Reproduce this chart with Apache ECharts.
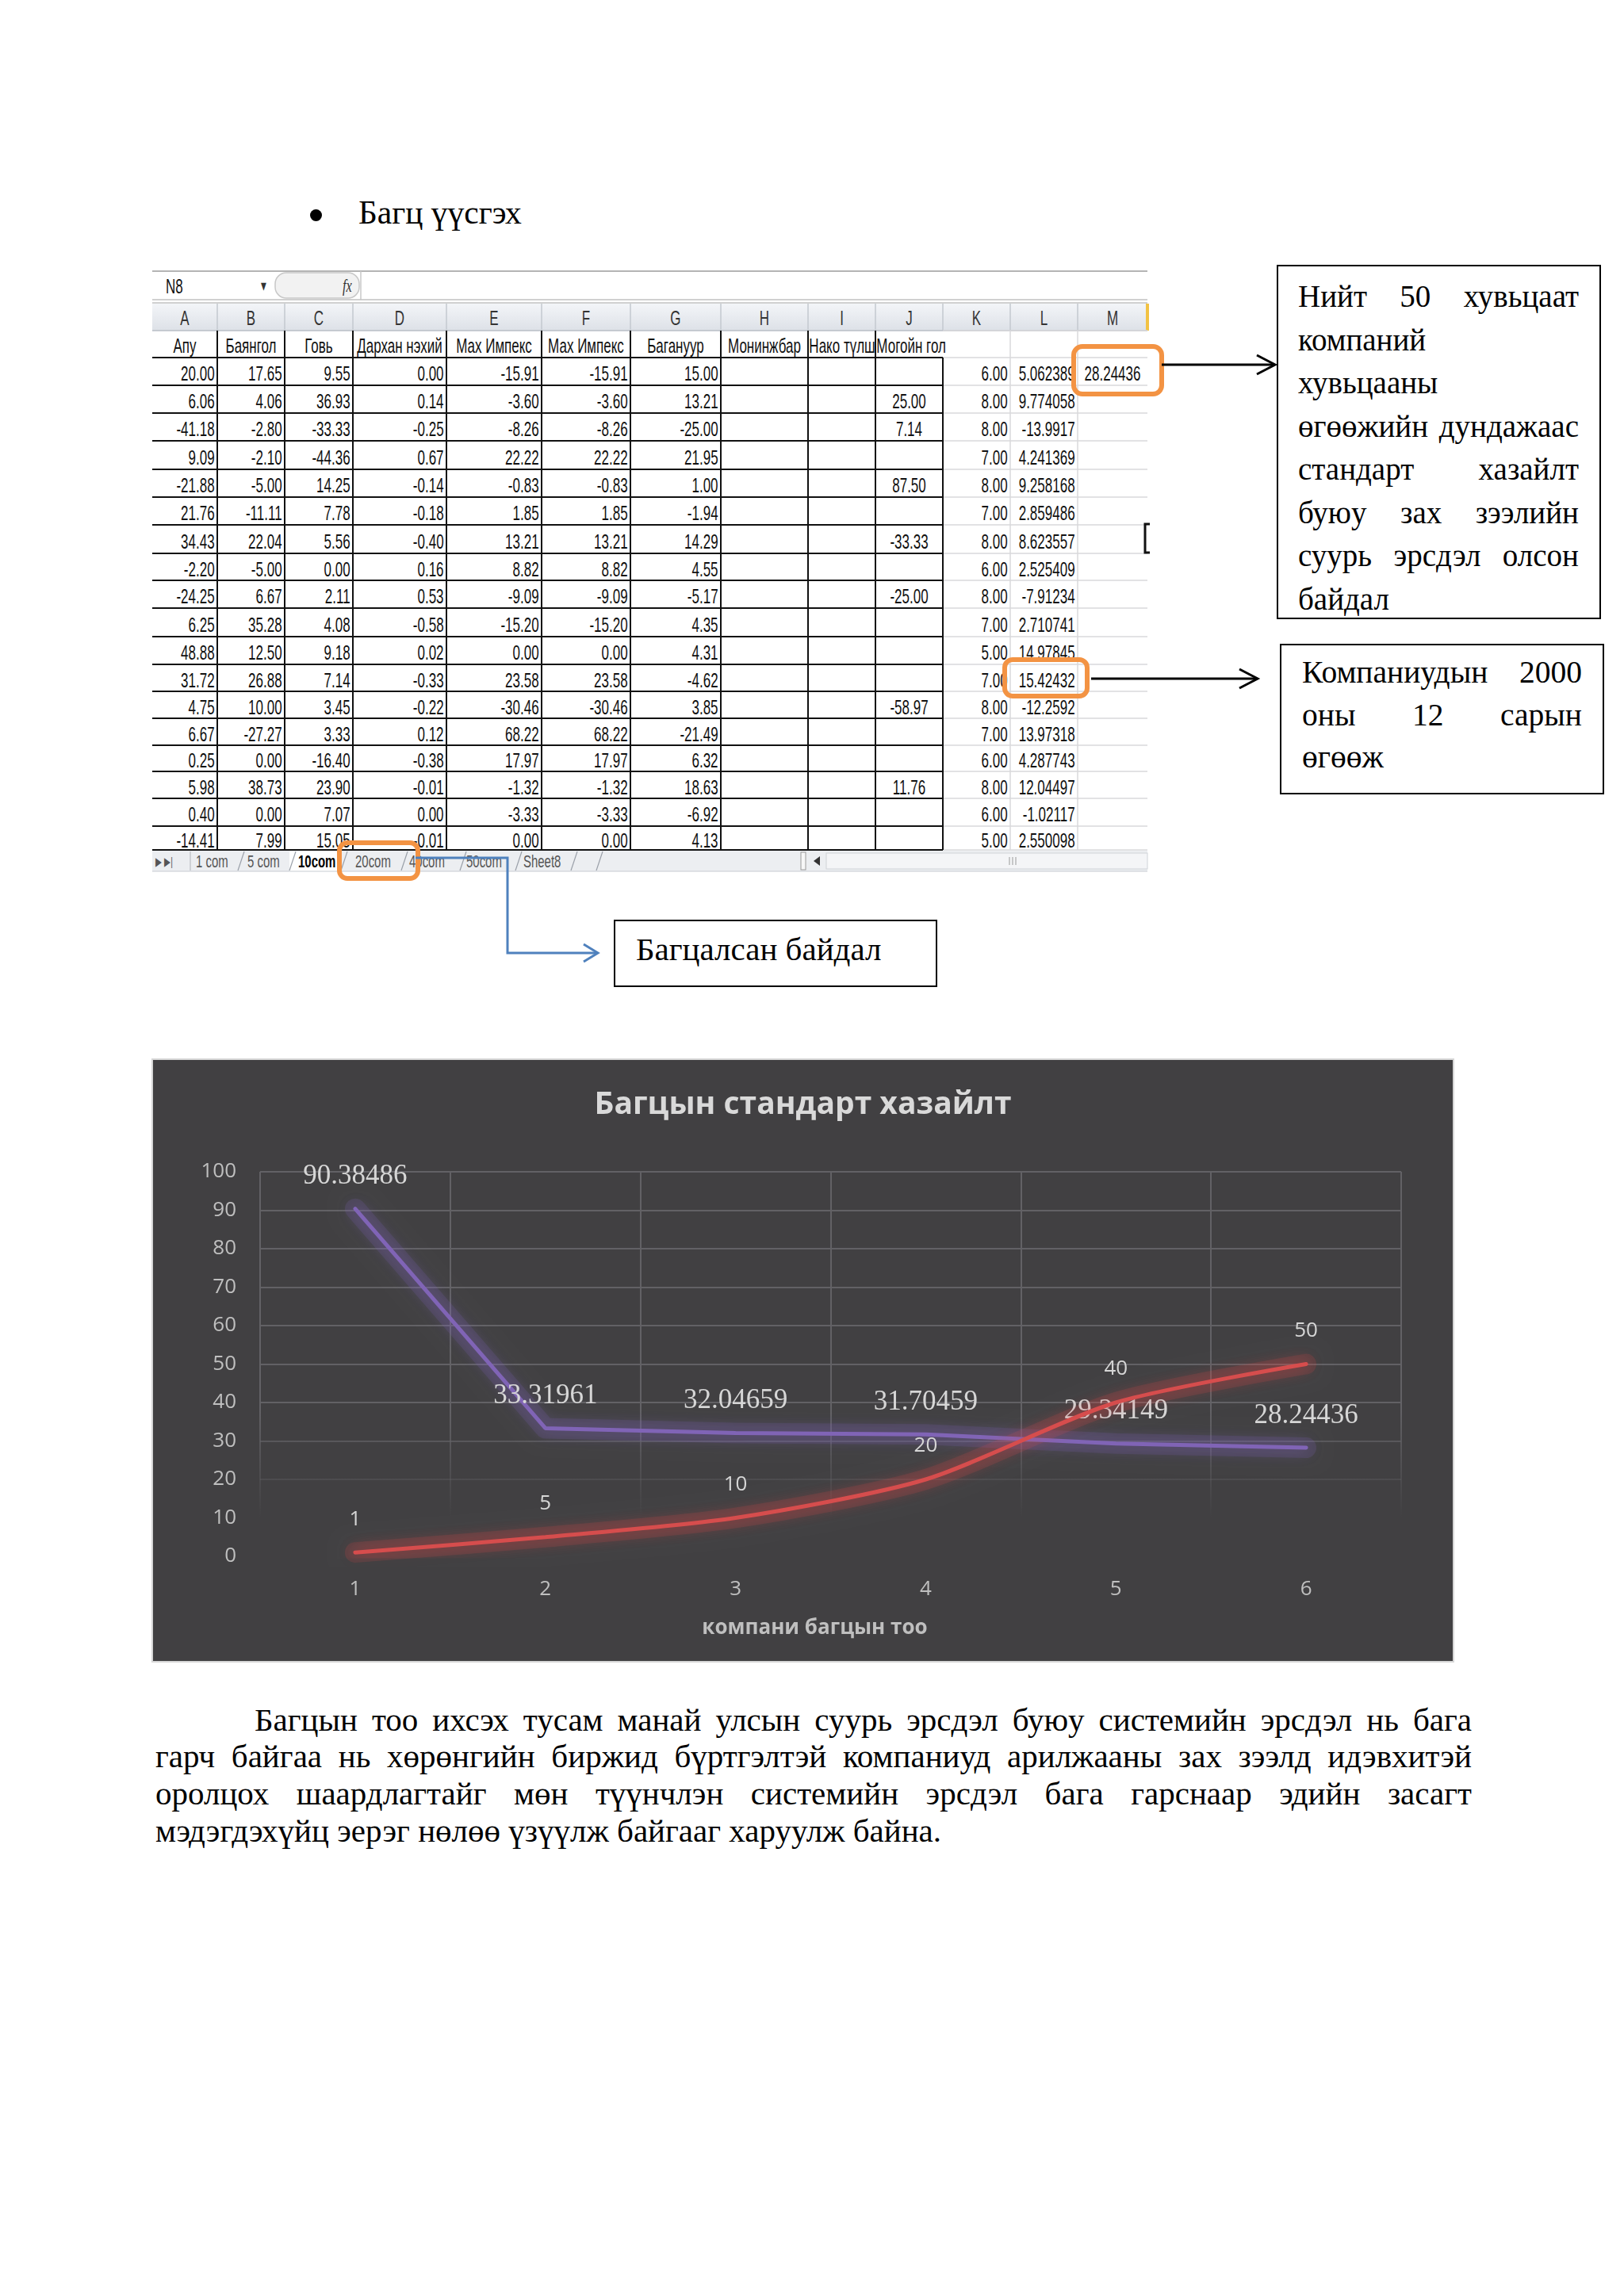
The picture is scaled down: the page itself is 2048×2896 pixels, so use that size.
<!DOCTYPE html>
<html><head><meta charset="utf-8">
<script src="https://cdn.jsdelivr.net/npm/echarts/dist/echarts.min.js"></script>
<style>
html,body{margin:0;padding:0;background:#fff;}
body{width:2048px;height:2896px;position:relative;overflow:hidden;font-family:"Liberation Serif","Times New Roman",serif;color:#000;}
.abs{position:absolute;}
.ln{display:flex;justify-content:space-between;white-space:nowrap;}
.ll{display:block;text-align:left;white-space:nowrap;}
.box{position:absolute;border:2px solid #000;box-sizing:border-box;background:#fff;}
#sheet{position:absolute;left:192px;top:342px;height:758px;transform-origin:0 0;font-family:"Liberation Sans",Arial,sans-serif;}
#sheet .c{position:absolute;box-sizing:border-box;white-space:nowrap;overflow:visible;font-size:25px;color:#111;}
#overlay{position:absolute;left:0;top:0;z-index:5;pointer-events:none;}
</style></head>
<body>

<!-- bullet heading -->
<div class="abs" style="left:391px;top:264px;width:15px;height:15px;border-radius:50%;background:#000;"></div>
<div class="abs" style="left:452px;top:248px;font-size:41.5px;line-height:41.5px;white-space:nowrap;">Багц үүсгэх</div>

<!-- spreadsheet -->
<svg id="sheetbg" class="abs" style="left:0;top:0;z-index:1" width="2048" height="1200"></svg>
<div id="sheet" style="z-index:2"></div>

<!-- text box 1 -->
<div class="box" style="left:1610px;top:334px;width:409px;height:447px;"></div>
<div class="abs" style="left:1637px;top:347px;width:354px;font-size:39px;line-height:54.5px;z-index:3">
  <span class="ln">Нийт 50 хувьцаат</span>
  <span class="ll">компаний</span>
  <span class="ll">хувьцааны</span>
  <span class="ln">өгөөжийн дундажаас</span>
  <span class="ln">стандарт хазайлт</span>
  <span class="ln">буюу зах зээлийн</span>
  <span class="ln">суурь эрсдэл олсон</span>
  <span class="ll">байдал</span>
</div>

<!-- text box 2 -->
<div class="box" style="left:1614px;top:812px;width:409px;height:190px;"></div>
<div class="abs" style="left:1642px;top:822px;width:353px;font-size:39.5px;line-height:53.5px;z-index:3">
  <span class="ln">Компаниудын 2000</span>
  <span class="ln">оны 12 сарын</span>
  <span class="ll">өгөөж</span>
</div>

<!-- text box 3 -->
<div class="box" style="left:774px;top:1160px;width:408px;height:85px;"></div>
<div class="abs" style="left:802px;top:1176.5px;font-size:41px;line-height:41px;white-space:nowrap;z-index:3">Багцалсан байдал</div>

<!-- chart -->
<div class="abs" style="left:191px;top:1335px;width:1643px;height:762px;border:0;background:#d6d6d6;">
  <div id="chart" style="position:absolute;left:2px;top:2px;width:1639px;height:758px;"></div>
</div>

<!-- paragraph -->
<div class="abs" style="left:196px;top:2145.5px;width:1660px;font-size:41px;line-height:46.8px;">
  <span class="ln" style="padding-left:125px;">Багцын тоо ихсэх тусам манай улсын суурь эрсдэл буюу системийн эрсдэл нь бага</span>
  <span class="ln">гарч байгаа нь хөрөнгийн биржид бүртгэлтэй компаниуд арилжааны зах зээлд идэвхитэй</span>
  <span class="ln">оролцох шаардлагтайг мөн түүнчлэн системийн эрсдэл бага гарснаар эдийн засагт</span>
  <span class="ll">мэдэгдэхүйц эерэг нөлөө үзүүлж байгааг харуулж байна.</span>
</div>

<svg id="overlay" width="2048" height="2896"></svg>

<script>
// ---------------- chart data ----------------
const categories = ['1', '2', '3', '4', '5', '6'];
const stdDevValues = [90.38486, 33.31961, 32.04659, 31.70459, 29.34149, 28.24436];
const companyCounts = [1, 5, 10, 20, 40, 50];
const chartTitle = 'Багцын стандарт хазайлт';
const xAxisTitle = 'компани багцын тоо';

// ---------------- spreadsheet data ----------------
const colLetters = ['A','B','C','D','E','F','G','H','I','J','K','L','M'];
const sheetHeaders = ['Апу','Баянгол','Говь','Дархан нэхий','Мах Импекс','Мах Импекс','Багануур','Монинжбар','Нако түлш','Могойн гол','','',''];
const colA = ['20.00','6.06','-41.18','9.09','-21.88','21.76','34.43','-2.20','-24.25','6.25','48.88','31.72','4.75','6.67','0.25','5.98','0.40','-14.41'];
const colB = ['17.65','4.06','-2.80','-2.10','-5.00','-11.11','22.04','-5.00','6.67','35.28','12.50','26.88','10.00','-27.27','0.00','38.73','0.00','7.99'];
const colC = ['9.55','36.93','-33.33','-44.36','14.25','7.78','5.56','0.00','2.11','4.08','9.18','7.14','3.45','3.33','-16.40','23.90','7.07','15.05'];
const colD = ['0.00','0.14','-0.25','0.67','-0.14','-0.18','-0.40','0.16','0.53','-0.58','0.02','-0.33','-0.22','0.12','-0.38','-0.01','0.00','-0.01'];
const colE = ['-15.91','-3.60','-8.26','22.22','-0.83','1.85','13.21','8.82','-9.09','-15.20','0.00','23.58','-30.46','68.22','17.97','-1.32','-3.33','0.00'];
const colF = ['-15.91','-3.60','-8.26','22.22','-0.83','1.85','13.21','8.82','-9.09','-15.20','0.00','23.58','-30.46','68.22','17.97','-1.32','-3.33','0.00'];
const colG = ['15.00','13.21','-25.00','21.95','1.00','-1.94','14.29','4.55','-5.17','4.35','4.31','-4.62','3.85','-21.49','6.32','18.63','-6.92','4.13'];
const colH = ['','','','','','','','','','','','','','','','','',''];
const colI = ['','','','','','','','','','','','','','','','','',''];
const colJ = ['','25.00','7.14','','87.50','','-33.33','','-25.00','','','','-58.97','','','11.76','',''];
const colK = ['6.00','8.00','8.00','7.00','8.00','7.00','8.00','6.00','8.00','7.00','5.00','7.00','8.00','7.00','6.00','8.00','6.00','5.00'];
const colL = ['5.062389','9.774058','-13.9917','4.241369','9.258168','2.859486','8.623557','2.525409','-7.91234','2.710741','14.97845','15.42432','-12.2592','13.97318','4.287743','12.04497','-1.02117','2.550098'];
const colM = ['28.24436','','','','','','','','','','','','','','','','',''];
const sheetTabs = ['1 com','5 com','10com','20com','40com','50com','Sheet8'];
const nameBoxText = 'N8';

// ---------------- justify helper (flex words) ----------------
document.querySelectorAll('.ln').forEach(el => {
  const words = el.textContent.trim().split(/\s+/);
  el.textContent = '';
  words.forEach(w => { const s = document.createElement('span'); s.textContent = w; el.appendChild(s); });
});

// ---------------- layout (page pixels) ----------------
const SX = 0.68;
const X0 = 192, Y0 = 342;
const colEdges = [192,274,359,445,563,683,795,909,1019,1104,1189,1274,1359,1447];
const rowEdges = [451,486,521,556,592,627,662,698,732,767,803,838,872,906,940,973,1007,1042,1072];
const colAlign = ['right','right','right','right','right','right','right','right','right','center','right','right','center'];
const tabX = [247,312,376,448,516,588,660];
const tabSeps = [300,365,430,506,580,650,720,752];

const columns = [colA,colB,colC,colD,colE,colF,colG,colH,colI,colJ,colK,colL,colM];
const sheet = document.getElementById('sheet');
sheet.style.width = ((1447 - X0) / SX) + 'px';
sheet.style.transform = 'scaleX(' + SX + ')';

function cell(text, x0, x1, y0, y1, align, extra) {
  const d = document.createElement('div');
  d.className = 'c';
  d.textContent = text;
  d.style.left = ((x0 - X0) / SX) + 'px';
  d.style.width = ((x1 - x0) / SX) + 'px';
  d.style.top = (y0 - Y0) + 'px';
  d.style.height = (y1 - y0) + 'px';
  d.style.lineHeight = (y1 - y0) + 'px';
  d.style.textAlign = align;
  d.style.padding = '0 6px';
  if (extra) Object.assign(d.style, extra);
  sheet.appendChild(d);
  return d;
}

// formula bar
cell(nameBoxText, 205, 270, 342, 378, 'left', {paddingTop:'1px'});
cell('▾', 325, 345, 342, 378, 'left', {fontSize:'20px', color:'#333'});
cell('fx', 428, 455, 342, 378, 'left', {fontFamily:'Liberation Serif', fontStyle:'italic', fontSize:'24px', color:'#333'});

// column letters
colLetters.forEach((L, i) => cell(L, colEdges[i], colEdges[i+1], 383, 417, 'center', {color:'#333', paddingTop:'1px'}));

// header row
sheetHeaders.forEach((h, i) => {
  if (!h) return;
  const opts = {padding:'2px 2px 0 2px'};
  if (i === 8) { opts.overflow = 'hidden'; cell(h, colEdges[i], colEdges[i+1], 417, 451, 'left', opts); }
  else if (i === 9) { cell(h, colEdges[i], colEdges[i+1] + 60, 417, 451, 'left', opts); }
  else cell(h, colEdges[i], colEdges[i+1], 417, 451, 'center', opts);
});

// data
for (let r = 0; r < 18; r++) {
  columns.forEach((col, c) => {
    const v = col[r];
    if (!v) return;
    cell(v, colEdges[c], colEdges[c+1], rowEdges[r], rowEdges[r+1], colAlign[c], {padding: colAlign[c]==='center' ? '3px 2px 0 2px' : '3px 5px 0 2px'});
  });
}

// tabs
sheetTabs.forEach((t, i) => {
  cell(t, tabX[i], tabX[i] + 70, 1074, 1100, 'left', {fontSize:'22px', color: i === 2 ? '#000' : '#555', fontWeight: i === 2 ? 'bold' : 'normal', padding:'0', lineHeight:'26px'});
});
cell('▶ ▶|', 196, 240, 1074, 1100, 'left', {fontSize:'15px', color:'#555', padding:'0', lineHeight:'26px'});

// sheet lines in svg
const NS = 'http://www.w3.org/2000/svg';
const bg = document.getElementById('sheetbg');
function sv(parent, tag, attrs) { const e = document.createElementNS(NS, tag); for (const k in attrs) e.setAttribute(k, attrs[k]); parent.appendChild(e); return e; }
sv(bg, 'rect', {x:192, y:342, width:1255, height:36, fill:'#ffffff'});
sv(bg, 'line', {x1:192, y1:342, x2:1447, y2:342, stroke:'#b4b4b4', 'stroke-width':2});
sv(bg, 'rect', {x:347, y:344, width:106, height:32, rx:14, fill:'#f2f2f2', stroke:'#c8c8c8', 'stroke-width':1.5});
sv(bg, 'line', {x1:455, y1:342, x2:455, y2:378, stroke:'#c8c8c8', 'stroke-width':1.5});
sv(bg, 'line', {x1:192, y1:378, x2:1447, y2:378, stroke:'#c0c0c0', 'stroke-width':1.5});
sv(bg, 'line', {x1:192, y1:382, x2:1447, y2:382, stroke:'#c0c0c0', 'stroke-width':1.5});
const defs = sv(bg, 'defs', {});
const g1 = sv(defs, 'linearGradient', {id:'hdr', x1:0, y1:0, x2:0, y2:1});
sv(g1, 'stop', {offset:'0', 'stop-color':'#f3f5f8'});
sv(g1, 'stop', {offset:'1', 'stop-color':'#dde1e7'});
sv(bg, 'rect', {x:192, y:383, width:1255, height:34, fill:'url(#hdr)'});
colEdges.slice(1, 13).forEach(x => sv(bg, 'line', {x1:x, y1:383, x2:x, y2:417, stroke:'#c3c8cf', 'stroke-width':1.5}));
sv(bg, 'rect', {x:1445, y:383, width:4, height:34, fill:'#f2c243'});
sv(bg, 'line', {x1:192, y1:417, x2:1447, y2:417, stroke:'#b9bec6', 'stroke-width':1.5});
[417].concat(rowEdges).forEach(y => sv(bg, 'line', {x1:1189, y1:y, x2:1447, y2:y, stroke:'#d8d9db', 'stroke-width':1.5}));
[1274, 1359].forEach(x => sv(bg, 'line', {x1:x, y1:417, x2:x, y2:1072, stroke:'#d8d9db', 'stroke-width':1.5}));
rowEdges.forEach(y => sv(bg, 'line', {x1:192, y1:y, x2:1189, y2:y, stroke:'#111', 'stroke-width':2}));
colEdges.slice(1, 10).forEach(x => sv(bg, 'line', {x1:x, y1:417, x2:x, y2:1072, stroke:'#111', 'stroke-width':2}));
sv(bg, 'line', {x1:1189, y1:451, x2:1189, y2:1072, stroke:'#111', 'stroke-width':2});
sv(bg, 'rect', {x:192, y:1073, width:1255, height:26, fill:'#eceef1'});
sv(bg, 'rect', {x:365, y:1073, width:66, height:26, fill:'#ffffff'});
tabSeps.forEach(x => sv(bg, 'line', {x1:x, y1:1098, x2:x + 8, y2:1074, stroke:'#9aa0a8', 'stroke-width':1.2}));
sv(bg, 'line', {x1:240, y1:1074, x2:240, y2:1098, stroke:'#b0b4ba', 'stroke-width':1});
sv(bg, 'rect', {x:1010, y:1075, width:6, height:22, fill:'#f7f7f7', stroke:'#9a9a9a', 'stroke-width':1});
sv(bg, 'path', {d:'M1034,1080 L1026,1086 L1034,1092 Z', fill:'#333'});
sv(bg, 'rect', {x:1042, y:1076, width:405, height:20, fill:'#f4f5f7', stroke:'#d0d3d8', 'stroke-width':1});
[1273, 1277, 1281].forEach(x => sv(bg, 'line', {x1:x, y1:1081, x2:x, y2:1091, stroke:'#999', 'stroke-width':1}));
sv(bg, 'line', {x1:192, y1:1099, x2:1447, y2:1099, stroke:'#c8ccd2', 'stroke-width':1});
sv(bg, 'path', {d:'M1450,661 H1444 V697 H1450', fill:'none', stroke:'#111', 'stroke-width':3});

// ---------------- overlay: highlight boxes and arrows ----------------
const ov = document.getElementById('overlay');
const OR = '#f39343';
sv(ov, 'rect', {x:1354, y:437, width:111, height:60, rx:11, fill:'none', stroke:OR, 'stroke-width':6});
sv(ov, 'rect', {x:1267, y:832, width:104, height:46, rx:10, fill:'none', stroke:OR, 'stroke-width':6});
sv(ov, 'rect', {x:428, y:1063, width:99, height:45, rx:10, fill:'none', stroke:OR, 'stroke-width':6});
sv(ov, 'line', {x1:1465, y1:460, x2:1607, y2:460, stroke:'#000', 'stroke-width':3});
sv(ov, 'path', {d:'M1585,448 L1608,460 L1585,472', fill:'none', stroke:'#000', 'stroke-width':3});
sv(ov, 'line', {x1:1376, y1:856, x2:1584, y2:856, stroke:'#000', 'stroke-width':3});
sv(ov, 'path', {d:'M1563,844 L1586,856 L1563,868', fill:'none', stroke:'#000', 'stroke-width':3});
sv(ov, 'path', {d:'M524,1082 H640 V1202 H752', fill:'none', stroke:'#4f81bd', 'stroke-width':3});
sv(ov, 'path', {d:'M736,1191 L754,1202 L736,1213', fill:'none', stroke:'#4f81bd', 'stroke-width':3});

// ---------------- ECharts chart ----------------
const chart = echarts.init(document.getElementById('chart'), null, {renderer: 'canvas'});
const gridFade = {
  type: 'linear', x: 0, y: 141, x2: 0, y2: 626, global: true,
  colorStops: [
    {offset: 0, color: 'rgba(98,97,101,1)'},
    {offset: 0.62, color: 'rgba(98,97,101,1)'},
    {offset: 0.9, color: 'rgba(98,97,101,0)'},
    {offset: 1, color: 'rgba(98,97,101,0)'}
  ]
};
const sansFont = '"Open Sans", "Noto Sans", sans-serif';
const hiddenSymbol = {symbol: 'circle', symbolSize: 2, showSymbol: true, itemStyle: {color: 'rgba(0,0,0,0)', borderWidth: 0}};
function glow(data, color, smooth) {
  return {type: 'line', data: data, smooth: smooth, symbol: 'none', silent: true, z: 1,
    lineStyle: {color: color, width: 26, cap: 'round', join: 'round', shadowColor: color, shadowBlur: 20}};
}
chart.setOption({
  animation: false,
  backgroundColor: '#414042',
  title: {
    text: chartTitle, left: 'center', top: 32,
    textStyle: {color: '#d9d9d9', fontSize: 39, fontWeight: 'bold', fontFamily: sansFont}
  },
  grid: {left: 135, right: 65, top: 141, bottom: 132},
  xAxis: {
    type: 'category', data: categories, boundaryGap: true,
    axisLine: {show: false}, axisTick: {show: false},
    axisLabel: {color: '#bfbfbf', fontSize: 26, fontFamily: sansFont, margin: 29},
    splitLine: {show: true, interval: 0, lineStyle: {color: gridFade, width: 2}},
    name: xAxisTitle, nameLocation: 'middle', nameGap: 78,
    nameTextStyle: {color: '#bfbfbf', fontSize: 26, fontWeight: 'bold', fontFamily: sansFont, padding: [0, 40, 0, 0]}
  },
  yAxis: {
    type: 'value', min: 0, max: 100, interval: 10,
    axisLine: {show: false}, axisTick: {show: false},
    axisLabel: {color: '#bfbfbf', fontSize: 26, fontFamily: sansFont, margin: 30},
    splitLine: {show: true, lineStyle: {color: gridFade, width: 2}}
  },
  series: [
    glow(stdDevValues, 'rgba(128,100,190,0.16)', false),
    glow(companyCounts, 'rgba(220,70,70,0.16)', 0.25),
    Object.assign({
      type: 'line', data: stdDevValues,
      lineStyle: {color: '#8064b6', width: 5, cap: 'round', shadowColor: 'rgba(128,100,190,0.9)', shadowBlur: 20},
      label: {show: true, position: 'top', distance: 22, color: '#d6d6d6', fontSize: 35, fontFamily: '"Liberation Serif", serif'},
      labelLayout: {hideOverlap: false},
      z: 3
    }, hiddenSymbol),
    Object.assign({
      type: 'line', data: companyCounts, smooth: 0.25,
      lineStyle: {color: '#d64d4d', width: 5, cap: 'round', shadowColor: 'rgba(225,70,70,0.9)', shadowBlur: 20},
      label: {show: true, position: 'top', distance: 28, color: '#d6d6d6', fontSize: 26, fontFamily: sansFont},
      labelLayout: {hideOverlap: false},
      z: 4
    }, hiddenSymbol)
  ]
});
</script>
</body></html>
